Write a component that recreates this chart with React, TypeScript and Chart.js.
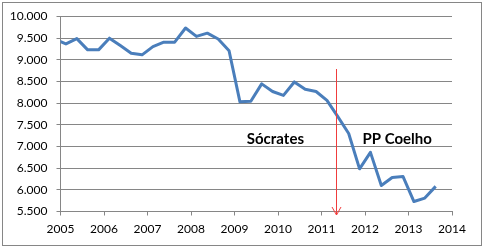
import React, { useEffect, useRef } from "react";
import { Chart, registerables } from "chart.js";

Chart.register(...registerables);

// Quarter mid-points (years) and the plotted values
const quarters: number[] = [
  2004.875, 2005.125, 2005.375, 2005.625, 2005.875, 2006.125, 2006.375, 2006.625, 2006.875,
  2007.125, 2007.375, 2007.625, 2007.875, 2008.125, 2008.375, 2008.625, 2008.875,
  2009.125, 2009.375, 2009.625, 2009.875, 2010.125, 2010.375, 2010.625, 2010.875,
  2011.125, 2011.375, 2011.625, 2011.875, 2012.125, 2012.375, 2012.625, 2012.875,
  2013.125, 2013.375, 2013.625,
];
const values: number[] = [
  9476, 9368, 9490, 9230, 9230, 9500, 9330, 9154, 9115,
  9306, 9408, 9408, 9735, 9540, 9615, 9480, 9210,
  8030, 8045, 8445, 8270, 8180, 8490, 8320, 8270,
  8065, 7690, 7300, 6485, 6865, 6100, 6285, 6305,
  5730, 5810, 6080,
];
const xTicks: number[] = [2005, 2006, 2007, 2008, 2009, 2010, 2011, 2012, 2013, 2014];
const yTicks: number[] = [5500, 6000, 6500, 7000, 7500, 8000, 8500, 9000, 9500, 10000];

// Annotations in data units
const annotationLabels: string[] = ["Sócrates", "PP Coelho"];
const annotationX: number[] = [2009.94, 2012.74];
const annotationY: number[] = [7173, 7173];
const arrowX = 2011.33;
const arrowTop = 8788;
const arrowTip = 5419;

const fmt = (v: number) => {
  const th = Math.floor(v / 1000);
  const rest = String(Math.round(v % 1000)).padStart(3, "0");
  return `${th}.${rest}`;
};

const GRID = "#868686";

export default function App() {
  const ref = useRef<HTMLCanvasElement | null>(null);

  useEffect(() => {
    if (!ref.current) return;
    Chart.defaults.font.family = "Lato";

    const framePlugin = {
      id: "frame",
      beforeDraw(chart: any) {
        const ctx = chart.ctx;
        ctx.save();
        ctx.fillStyle = "#ffffff";
        ctx.fillRect(0, 0, chart.width, chart.height);
        ctx.strokeStyle = GRID;
        ctx.lineWidth = 1;
        ctx.strokeRect(2.5, 2.5, 479, 243);
        ctx.restore();
      },
    };

    const notesPlugin = {
      id: "notes",
      afterDatasetsDraw(chart: any) {
        const ctx = chart.ctx;
        const xs = chart.scales.x;
        const ys = chart.scales.y;
        ctx.save();
        ctx.fillStyle = "#000000";
        ctx.font = "bold 15px Lato";
        ctx.textAlign = "center";
        ctx.textBaseline = "middle";
        annotationLabels.forEach((t, i) => {
          ctx.fillText(t, xs.getPixelForValue(annotationX[i]), ys.getPixelForValue(annotationY[i]));
        });
        const ax = Math.round(xs.getPixelForValue(arrowX)) + 0.5;
        const at = ys.getPixelForValue(arrowTop);
        const ab = ys.getPixelForValue(arrowTip);
        ctx.strokeStyle = "#f03c3c";
        ctx.lineWidth = 1;
        ctx.beginPath();
        ctx.moveTo(ax, at);
        ctx.lineTo(ax, ab);
        ctx.moveTo(ax - 4.5, ab - 8);
        ctx.lineTo(ax, ab);
        ctx.lineTo(ax + 4.5, ab - 8);
        ctx.stroke();
        ctx.restore();
      },
    };

    const chart = new Chart(ref.current, {
      type: "line",
      data: {
        datasets: [
          {
            data: quarters.map((q, i) => ({ x: q, y: values[i] })),
            borderColor: "#4a7ebb",
            borderWidth: 3,
            borderJoinStyle: "round",
            pointRadius: 0,
            tension: 0,
            fill: false,
            clip: { left: 0, right: 0, top: 5, bottom: 5 } as any,
          },
        ],
      },
      options: {
        responsive: false,
        animation: false,
        events: [],
        layout: { padding: { left: 0, right: 32, top: 16.5, bottom: 0 } },
        plugins: { legend: { display: false }, tooltip: { enabled: false } },
        scales: {
          x: {
            type: "linear",
            min: 2005,
            max: 2014,
            afterFit: (s: any) => {
              s.height = 36.5;
            },
            afterBuildTicks: (s: any) => {
              s.ticks = xTicks.map((v) => ({ value: v }));
            },
            ticks: {
              color: "#000000",
              font: { size: 12 },
              padding: 6,
              maxRotation: 0,
              callback: (v: any) => String(v),
            },
            grid: { drawOnChartArea: false, color: GRID, tickLength: 4 },
            border: { color: GRID },
          },
          y: {
            min: 5500,
            max: 10000,
            afterFit: (s: any) => {
              s.width = 60.5;
            },
            afterBuildTicks: (s: any) => {
              s.ticks = yTicks.map((v) => ({ value: v }));
            },
            ticks: {
              color: "#000000",
              font: { size: 12 },
              padding: 9,
              callback: (v: any) => fmt(Number(v)),
            },
            grid: { color: GRID, tickLength: 4 },
            border: { color: GRID },
          },
        },
      },
      plugins: [framePlugin, notesPlugin],
    } as any);

    return () => chart.destroy();
  }, []);

  return (
    <div style={{ position: "absolute", left: 0, top: 0, width: 484, height: 248 }}>
      <canvas ref={ref} width={484} height={248} style={{ display: "block" }} />
    </div>
  );
}
